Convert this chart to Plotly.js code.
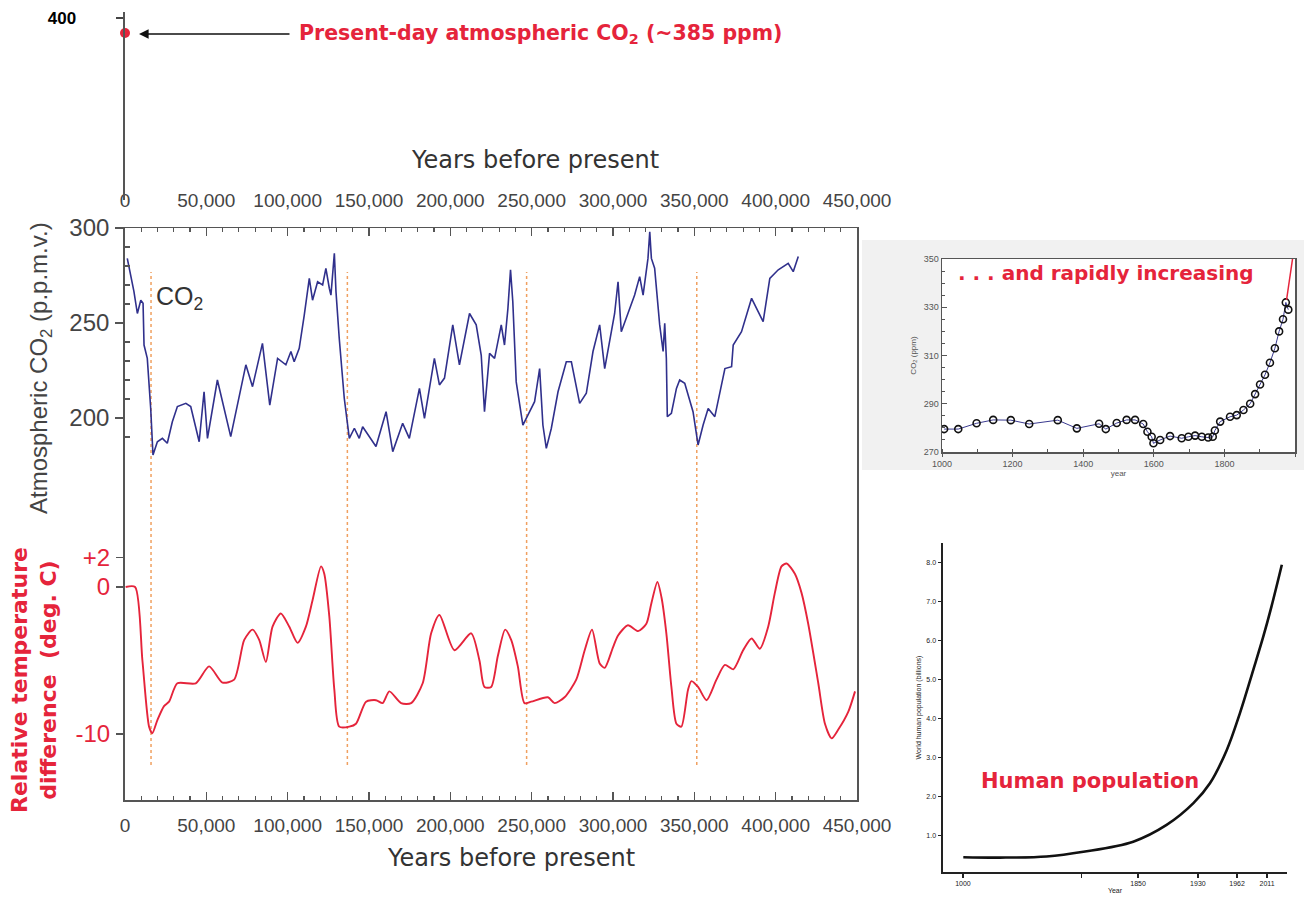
<!DOCTYPE html>
<html>
<head>
<meta charset="utf-8">
<script src="https://cdn.plot.ly/plotly-3.0.1.min.js"></script>
<style>html,body{margin:0;padding:0;background:#fff;}#chart{width:1304px;height:900px;}</style>
</head>
<body>
<div id="chart"></div>
<script>
// ---- Main ice-core CO2 record (years before present, ppmv)
const co2Years = [1400,3500,5500,7600,9700,11100,11700,13700,15800,17200,19900,23000,26000,29100,32200,37400,40400,45600,48600,50700,56800,65000,74300,78400,84500,89000,93800,98900,102000,104000,107100,110200,113300,115300,118400,121500,123500,125600,126600,128700,129700,131700,134800,137900,141000,144000,146100,154300,160500,164600,170700,174800,181000,184100,190200,193300,196400,201500,205600,211800,215900,219000,221000,224100,227200,231300,233300,235400,237000,238400,240500,244600,247700,251800,254900,256900,259000,262100,266200,271300,274400,279500,283600,287700,291800,294900,301000,303100,305100,308200,313300,316400,318500,321500,322600,323600,325600,328700,330800,331800,332800,333400,335900,339000,341000,344100,349200,352300,355400,358500,362600,368800,372900,373900,379000,385200,392300,396400,401600,407700,410800,413900];
const co2Values = [284,275.3,266.5,255,262,260.4,238.4,231.4,205,180.5,187.5,189.3,186.7,198,206,207.7,206,187.5,213.8,189.3,220,190.2,228,216.5,239.3,206.8,231.4,228,235,229.6,236.7,254.2,273.5,262,271.7,270,278.8,268.3,264.7,286.7,266.5,242,210.4,189.3,194.6,189.3,195.4,185,203.3,182.3,197.2,189.3,215.6,199.8,231.4,217.4,221,249,228,255,249,233,203.3,234,231.4,249,238.4,257.7,278,261.2,219,196.3,201.6,208.6,226,196.3,184,194.6,213.8,229.6,229.6,207.7,213,235,249,226,255,271.7,245.4,252.5,264.7,274.4,264.7,284,298,284,278.8,249,235,249.8,231.4,200.7,202.5,215.6,220,218.3,203.3,185.8,196.3,205,200.7,226,227,238.4,245.4,263,250.7,273.5,278,281.4,277,285];

// ---- Relative temperature difference (deg C)
const tempYears = [400,6200,10700,14800,16800,19900,24000,27100,32200,43500,51700,59900,67100,73300,78400,82500,86600,90700,95800,101000,106100,111200,115300,120500,122500,125600,128700,131700,137900,142000,148200,154300,158400,162500,169700,175900,183000,188200,193300,202500,212800,217900,221000,225100,229200,233700,237400,241500,245600,249700,260000,264100,270200,277400,282600,287100,291800,294900,300000,303100,309200,315400,320500,323600,327300,329800,332800,335900,339000,342000,346100,348200,352300,357500,363600,368800,373900,380000,385200,390300,395400,399500,403600,406700,411800,415900,420000,426200,430300,434400,438500,444600,448800];
const tempValues = [0,0,-5,-9.5,-9.95,-9.05,-8.1,-7.8,-6.55,-6.55,-5.4,-6.5,-6.3,-3.6,-2.9,-3.6,-5.1,-2.7,-1.8,-2.7,-3.8,-2.7,-0.9,1.4,0.9,-2.0,-7.0,-9.5,-9.5,-9.3,-7.8,-7.7,-7.9,-7.1,-7.9,-7.9,-6.55,-3.15,-1.9,-4.3,-3.15,-5,-6.8,-6.8,-4.7,-2.9,-3.6,-5.4,-7.9,-7.8,-7.5,-7.9,-7.5,-6.3,-4.3,-2.9,-5.2,-5.5,-4.1,-3.3,-2.6,-3.0,-2.5,-1.1,0.35,-0.7,-3.15,-6.8,-9.3,-9.5,-7.0,-6.4,-6.8,-7.7,-6.3,-5.3,-5.6,-4.3,-3.5,-4.2,-2.7,-0.4,1.4,1.6,0.9,-0.4,-2.5,-6.55,-9.3,-10.3,-9.7,-8.5,-7.1];

// ---- Glacial terminations (dashed markers)
const terminationYears = [16000, 136700, 246900, 351500];

// ---- Present-day CO2
const presentYear = [0];
const presentCO2 = [385];

// ---- Inset: CO2 over the last millennium
const lawYears = [1006,1046,1098,1145,1195,1247,1328,1382,1445,1464,1495,1523,1547,1570,1582,1594,1599,1618,1646,1679,1698,1717,1736,1754,1767,1773,1788,1816,1835,1854,1873,1887,1901,1915,1929,1943,1955,1966,1974,1981];
const lawCO2 = [279.5,279.5,281.9,283.3,283.2,281.6,283.2,279.8,281.7,279.5,282,283.3,283.3,281.6,278.4,276.3,273.6,275,276.6,275.7,276.3,276.8,276.3,276,276.3,278.9,282.6,284.6,285.3,287.4,290,294,298,302,307,313,320,325,332,329];
const recentYears = [1976, 1993];
const recentCO2 = [333, 350];

// ---- Inset: human population (billions); x is position along the drawn year axis
const popPos = [5.9,16.6,30.1,40.8,55.3,65,72.8,77.6,82.5,86.3,90.2,93.1,95.5,98.5];
const popBillions = [0.43,0.42,0.45,0.57,0.83,1.26,1.82,2.33,3.19,4.13,5.25,6.1,6.88,7.95];
const popTickPos = [5.8,40.3,56.7,74.1,85.5,94.2];
const popTickText = ["1000","","1850","1930","1962","2011"];

// ---- Tick labels
const mainTickVals = [0,50000,100000,150000,200000,250000,300000,350000,400000,450000];
const mainTickText = ["0","50,000","100,000","150,000","200,000","250,000","300,000","350,000","400,000","450,000"];

const W = 1304, H = 900;
const px = v => v / W;
const py = v => 1 - v / H;
const FONT = "Liberation Sans, Arial, Helvetica, sans-serif";
const WIDE = "DejaVu Sans, Liberation Sans, sans-serif";
const RED = "#e5243b";
const GRAY = "#444";

// main box: top 228px, bottom 800px; CO2 300 at 228 (50 ppm = 95 px); temp 0 at 587 (1 deg = 14.7 px)
const BOX_TOP = 228, BOX_BOT = 800;

const traces = [
  {x: co2Years, y: co2Values, xaxis: 'x', yaxis: 'y', mode: 'lines',
   line: {color: '#30308c', width: 1.6}, hoverinfo: 'skip'},
  {x: [null], y: [null], xaxis: 'x2', yaxis: 'y', mode: 'lines', hoverinfo: 'skip'},
  {x: tempYears, y: tempValues, xaxis: 'x', yaxis: 'y2', mode: 'lines',
   line: {color: RED, width: 1.9, shape: 'spline', smoothing: 0.7}, hoverinfo: 'skip'},
  {x: presentYear, y: presentCO2, xaxis: 'x3', yaxis: 'y3', mode: 'markers',
   marker: {color: RED, size: 10}, hoverinfo: 'skip', cliponaxis: false},
  {x: lawYears, y: lawCO2, xaxis: 'x4', yaxis: 'y4', mode: 'lines+markers',
   line: {color: '#3a3a90', width: 1},
   marker: {symbol: 'circle-open', color: '#111', size: 7, line: {width: 1.6}}, hoverinfo: 'skip'},
  {x: recentYears, y: recentCO2, xaxis: 'x4', yaxis: 'y4', mode: 'lines',
   line: {color: RED, width: 1.5}, hoverinfo: 'skip', cliponaxis: false},
  {x: popPos, y: popBillions, xaxis: 'x5', yaxis: 'y5', mode: 'lines',
   line: {color: '#111', width: 2.6, shape: 'spline'}, hoverinfo: 'skip'}
];

const shapes = [
  {type: 'rect', xref: 'paper', yref: 'paper', x0: px(862), x1: px(1304), y0: py(470), y1: py(240),
   fillcolor: '#f1f1f1', line: {width: 0}, layer: 'below'},
  {type: 'rect', xref: 'paper', yref: 'paper', x0: px(942), x1: px(1295), y0: py(452), y1: py(259),
   fillcolor: '#ffffff', line: {width: 0}, layer: 'below'}
];
terminationYears.forEach(t => shapes.push({
  type: 'line', xref: 'x', yref: 'paper', x0: t, x1: t, y0: py(765), y1: py(272),
  line: {color: '#f0a060', width: 1.5, dash: 'dot'}, layer: 'below'
}));

const mainDomain = [px(125), px(857)];

function note(text, x, y, font, extra) {
  return Object.assign({text: text, xref: 'paper', yref: 'paper', x: px(x), y: py(y),
    xanchor: 'center', yanchor: 'middle', showarrow: false, font: font}, extra || {});
}

const layout = {
  width: W, height: H, autosize: false,
  margin: {l: 0, r: 0, t: 0, b: 0},
  paper_bgcolor: '#ffffff', plot_bgcolor: 'rgba(0,0,0,0)',
  showlegend: false,
  font: {family: FONT},
  xaxis: {domain: mainDomain, range: [0, 450000], anchor: 'y',
    tickvals: mainTickVals, ticktext: mainTickText, tickfont: {family: FONT, size: 19, color: GRAY},
    ticks: 'inside', ticklen: 8, tickcolor: '#555', tickwidth: 1.2,
    minor: {dtick: 10000, ticks: 'inside', ticklen: 4, tickcolor: '#555'},
    showline: true, linecolor: '#555', linewidth: 1.5, mirror: true,
    showgrid: false, zeroline: false, ticklabelstandoff: 8},
  xaxis2: {overlaying: 'x', anchor: 'y', side: 'top', range: [0, 450000],
    tickvals: mainTickVals, ticktext: mainTickText, tickfont: {family: FONT, size: 19, color: GRAY},
    ticks: 'inside', ticklen: 8, tickcolor: '#555', tickwidth: 1.2,
    minor: {dtick: 10000, ticks: 'inside', ticklen: 4, tickcolor: '#555'},
    showline: false, showgrid: false, zeroline: false, ticklabelstandoff: 16},
  yaxis: {domain: [py(BOX_BOT), py(BOX_TOP)], range: [300 - (BOX_BOT - BOX_TOP) * 50 / 95, 300], anchor: 'x',
    tickvals: [200, 250, 300], tickfont: {family: FONT, size: 24, color: GRAY},
    ticks: 'outside', ticklen: 8, tickcolor: '#555', tickwidth: 1.2,
    minor: {tickvals: [190,210,220,230,240,260,270,280,290], ticks: 'inside', ticklen: 5, tickcolor: '#555'},
    showline: true, linecolor: '#555', linewidth: 1.8, mirror: true,
    showgrid: false, zeroline: false, ticklabelstandoff: 1},
  yaxis2: {overlaying: 'y', anchor: 'x', side: 'left',
    range: [-(BOX_BOT - 587) / 14.7, (587 - BOX_TOP) / 14.7],
    tickvals: [-10, 0, 2], ticktext: ['-10', '0', '+2'], tickfont: {family: FONT, size: 24, color: RED},
    ticks: 'outside', ticklen: 8, tickcolor: '#555', tickwidth: 1.2,
    showline: false, showgrid: false, zeroline: false, ticklabelstandoff: 1},
  xaxis3: {domain: mainDomain, range: [0, 450000], anchor: 'y3', visible: false},
  yaxis3: {domain: [py(200), py(12)], range: [218, 406], anchor: 'x3',
    tickvals: [400], tickfont: {family: FONT, size: 17, color: '#000', weight: 'bold'},
    ticks: 'outside', ticklen: 7, tickcolor: '#444', tickwidth: 1.5,
    showline: true, linecolor: '#555', linewidth: 2.5,
    showgrid: false, zeroline: false, ticklabelstandoff: 36},
  xaxis4: {domain: [px(942), px(1295)], range: [1000, 2000], anchor: 'y4',
    tickvals: [1000,1200,1400,1600,1800,2000], tickfont: {family: FONT, size: 9, color: '#555'},
    ticks: 'outside', ticklen: 3, tickcolor: '#555',
    minor: {dtick: 100, ticks: 'inside', ticklen: 3, tickcolor: '#555'},
    showline: true, linecolor: '#555', linewidth: 1.5, mirror: true, showgrid: false, zeroline: false,
    title: {text: 'year', font: {family: FONT, size: 8, color: '#555'}, standoff: 2}},
  yaxis4: {domain: [py(452), py(259)], range: [270, 350], anchor: 'x4',
    tickvals: [270,290,310,330,350], tickfont: {family: FONT, size: 9, color: '#555'},
    ticks: 'inside', ticklen: 5, tickcolor: '#555',
    minor: {dtick: 5, ticks: 'inside', ticklen: 3, tickcolor: '#555'},
    showline: true, linecolor: '#555', linewidth: 1.5, mirror: true, showgrid: false, zeroline: false,
    title: {text: 'CO<sub>2</sub> (ppm)', font: {family: FONT, size: 8, color: '#555'}, standoff: 6}},
  xaxis5: {domain: [px(943), px(1287)], range: [0, 100], anchor: 'y5',
    tickvals: popTickPos, ticktext: popTickText, tickfont: {family: FONT, size: 7, color: '#222'},
    ticks: 'outside', ticklen: 4, tickcolor: '#222', tickwidth: 1.5,
    showline: true, linecolor: '#222', linewidth: 2, showgrid: false, zeroline: false,
    title: {text: 'Year', font: {family: FONT, size: 7, color: '#222'}, standoff: 2}},
  yaxis5: {domain: [py(872), py(543)], range: [0.05, 8.51], anchor: 'x5',
    tickvals: [1,2,3,4,5,6,7,8], tickformat: '.1f', tickfont: {family: FONT, size: 7, color: '#222'},
    ticks: 'outside', ticklen: 3, tickcolor: '#222',
    showline: true, linecolor: '#222', linewidth: 2.5, showgrid: false, zeroline: false,
    title: {text: 'World human population (billions)', font: {family: FONT, size: 7, color: '#222'}, standoff: 4}},
  shapes: shapes,
  annotations: [
    note('Years before present', 535, 160, {family: WIDE, size: 24, color: '#333'}),
    note('Years before present', 511, 858, {family: WIDE, size: 24, color: '#333'}),
    note('Atmospheric CO<sub>2</sub> (p.p.m.v.)', 40, 368, {family: FONT, size: 24, color: GRAY}, {textangle: -90}),
    note('<b>Relative temperature<br>difference  (deg. C)</b>', 34, 680, {family: WIDE, size: 22, color: RED}, {textangle: -90}),
    note('CO<sub>2</sub>', 154, 298, {family: FONT, size: 25, color: '#333'}, {xanchor: 'left'}),
    {text: '', xref: 'paper', yref: 'paper', x: px(139), y: py(34), ax: 152, ay: 0,
     showarrow: true, arrowhead: 2, arrowsize: 1.2, arrowwidth: 1.6, arrowcolor: '#111'},
    note('<b>Present-day atmospheric CO<sub>2</sub> (~385 ppm)</b>', 297, 34, {family: WIDE, size: 20.5, color: RED}, {xanchor: 'left'}),
    note('<b>. . . and rapidly increasing</b>', 956, 273, {family: WIDE, size: 20, color: RED}, {xanchor: 'left'}),
    note('<b>Human population</b>', 979, 781, {family: WIDE, size: 21, color: RED}, {xanchor: 'left'})
  ]
};

Plotly.newPlot('chart', traces, layout, {staticPlot: true, displayModeBar: false});
</script>
</body>
</html>
